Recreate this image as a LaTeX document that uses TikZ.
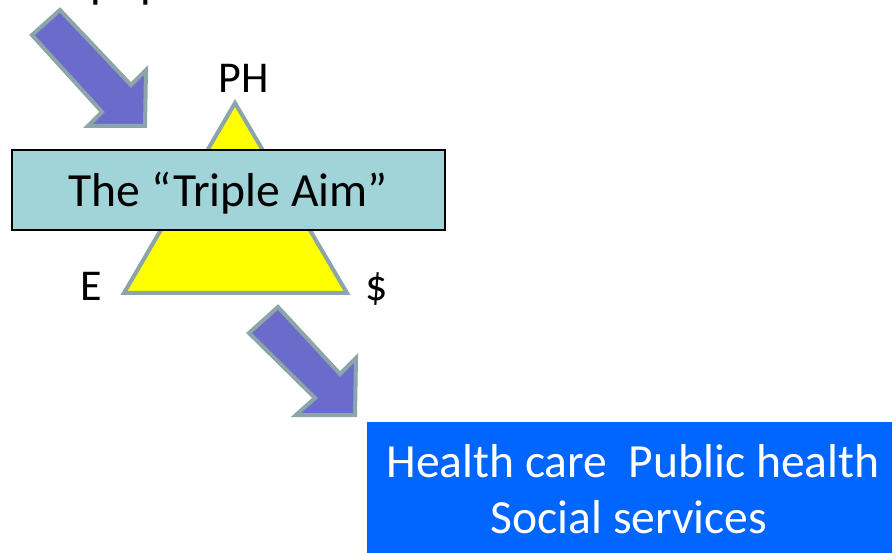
\documentclass[tikz,border=0pt]{standalone}
\usepackage{fontspec}
\setmainfont{Carlito}
\definecolor{tealfill}{RGB}{160,212,216}
\definecolor{arrowfill}{RGB}{107,107,204}
\definecolor{grayedge}{RGB}{140,165,168}
\definecolor{bluebox}{RGB}{0,102,255}
\definecolor{triyellow}{RGB}{255,255,0}
\tikzset{
  bigtext/.style={font=\fontsize{47.6}{57}\selectfont},
  labeltext/.style={font=\fontsize{44}{53}\selectfont, anchor=base},
  blockarrow/.style={fill=arrowfill, draw=grayedge, line width=4pt, line join=miter},
  tri/.style={fill=triyellow, draw=grayedge, line width=4pt, line join=miter},
}
\begin{document}
\begin{tikzpicture}[x=1pt,y=-1pt]
\useasboundingbox (0,0) rectangle (892,553);
\clip (0,0) rectangle (892,553);
% cut-off top text
\node[bigtext, anchor=base west, inner sep=0pt] (toptext) at (40,-2) {of population};
% arrow 1
\coordinate (a1) at (32,35);
\coordinate (a2) at (60,10);
\coordinate (a3) at (131,85);
\coordinate (a4) at (146,70);
\coordinate (a5) at (145,126);
\coordinate (a6) at (88,126);
\coordinate (a7) at (102,112);
\draw[blockarrow] (a1) -- (a2) -- (a3) -- (a4) -- (a5) -- (a6) -- (a7) -- cycle;
% triangle
\coordinate (tA) at (235,103);
\coordinate (tL) at (124,293);
\coordinate (tR) at (347,293);
\draw[tri] (tA) -- (tL) -- (tR) -- cycle;
% triple aim box
\node[draw=black, line width=2pt, fill=tealfill, minimum width=433pt, minimum height=80pt, inner sep=0pt] (aim) at (228.5,190) {};
\node[bigtext, anchor=base, inner sep=0pt] (aimtext) at (228,207) {The “Triple Aim”};
% labels
\node[labeltext, inner sep=0pt] (ph) at (244,93) {PH};
\node[labeltext, inner sep=0pt] (e) at (91,301) {E};
\node[labeltext, inner sep=0pt] (cost) at (377,301) {\$};
% arrow 2
\coordinate (b1) at (249,333);
\coordinate (b2) at (278,307);
\coordinate (b3) at (340,374);
\coordinate (b4) at (356,358);
\coordinate (b5) at (355,415);
\coordinate (b6) at (296,415);
\coordinate (b7) at (315,398);
\draw[blockarrow] (b1) -- (b2) -- (b3) -- (b4) -- (b5) -- (b6) -- (b7) -- cycle;
% services box
\node[fill=bluebox, minimum width=540pt, minimum height=140pt, inner sep=0pt, anchor=north west] (services) at (367,422) {};
\node[bigtext, anchor=base, text=white, inner sep=0pt] (line1) at (633,477) {Health care~ Public health};
\node[bigtext, anchor=base, text=white, inner sep=0pt] (line2) at (629,533) {Social services};
\end{tikzpicture}
\end{document}
